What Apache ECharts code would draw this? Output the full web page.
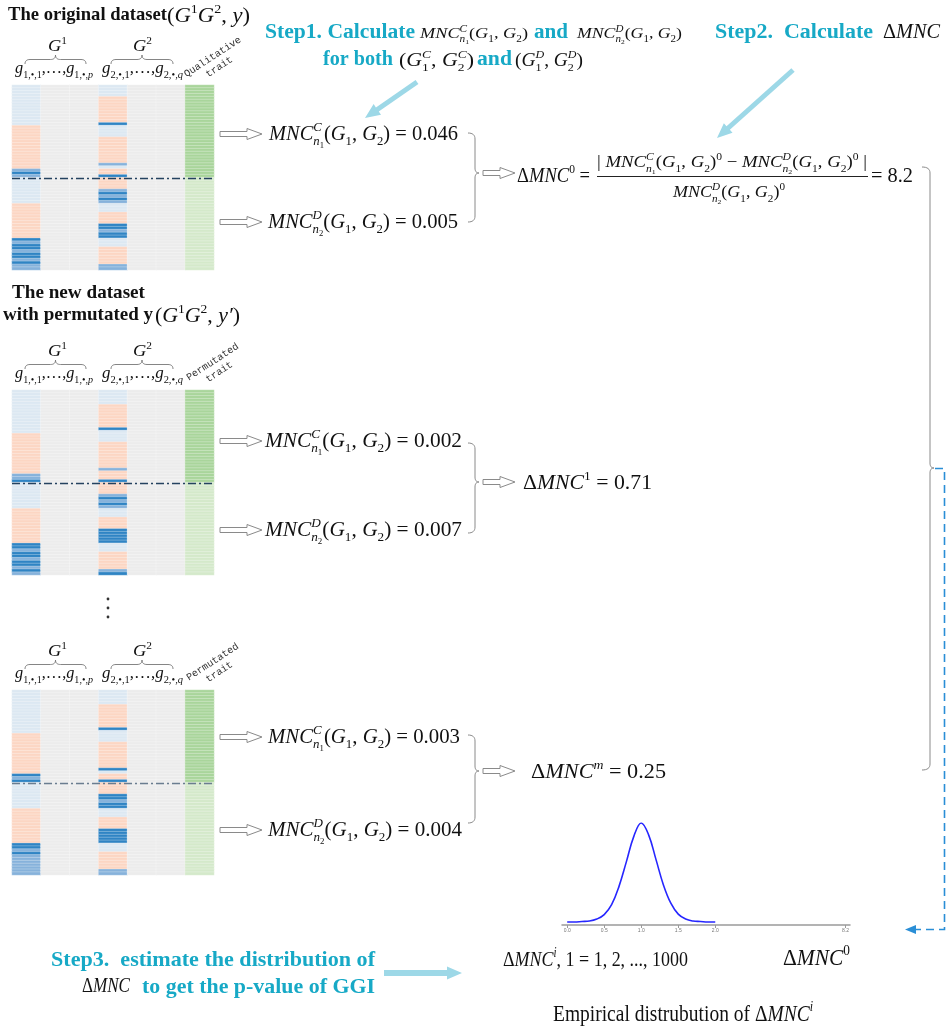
<!DOCTYPE html>
<html>
<head>
<meta charset="utf-8">
<title>Permutation test of GGI</title>
<script src="https://cdn.jsdelivr.net/npm/echarts@6/dist/echarts.min.js"></script>
<style>
  html, body { margin: 0; padding: 0; background: #fff; }
  #chart { width: 948px; height: 1030px; }
</style>
</head>
<body>
<div id="chart"></div>
<script>
// ---------------- data ----------------
// heatmap cell codes: l light blue, s salmon, b mid blue, B dark blue, g grey, G green, h pale green
const cellCodes = ['l', 's', 'b', 'B', 'g', 'G', 'h'];
const cellColors = ['#dce8f2', '#fcd6c3', '#86b2db', '#2f84c4', '#ececec', '#a9d59b', '#d4e9ca'];
const geneCols = ['g1_1', 'g1_2', 'g1_p', 'g2_1', 'g2_2', 'g2_q', 'trait'];
const rowCount = 64;

// one string per column, one char per row (top -> bottom), grouped by 8
const greyCol  = 'gggggggg gggggggg gggggggg gggggggg gggggggg gggggggg gggggggg gggggggg';
const traitCol = 'GGGGGGGG GGGGGGGG GGGGGGGG GGGGGGGG hhhhhhhh hhhhhhhh hhhhhhhh hhhhhhhh';
// original dataset
const origG1 = 'llllllll llllllss ssssssss sssssbBb llllllll lsssssss sssssBbB BbBBbBbb';
const origG2 = 'llllssss sssssBll llssssss sssblssB ssssbBbB blllssss BBbBBlll ssssssbb';
// first permutation
const perm1G1 = 'llllllll llllllls ssssssss sssssbbB llllllll lsssssss sssssBBb BBbBBbBb';
const perm1G2 = 'lllllsss sssssBll llssssss sssbsssB ssssbBbB blllssss BBBBBlll ssssssbB';
// m-th permutation
const permMG1 = 'llllllll llllllls ssssssss sssssBbB llllllll lsssssss sssssBBb Bbbbbbbb';
const permMG2 = 'lllllsss sssssBll llssssss sssBlssB ssssBBbB Blllssss BBBBBlll ssssssbb';

// MNC statistics and the derived delta values
const mncCValues = ['0.046', '0.002', '0.003'];
const mncDValues = ['0.005', '0.007', '0.004'];
const deltaValues = ['8.2', '0.71', '0.25'];

// empirical distribution of delta MNC
const densityX = [0.0, 0.1, 0.2, 0.3, 0.4, 0.5, 0.6, 0.7, 0.8, 0.9, 1.0,
                  1.1, 1.2, 1.3, 1.4, 1.5, 1.6, 1.7, 1.8, 1.9, 2.0];
const densityY = [0.00, 0.00, 0.01, 0.02, 0.06, 0.15, 0.35, 0.72, 1.22, 1.73, 2.00,
                  1.76, 1.26, 0.75, 0.38, 0.16, 0.06, 0.02, 0.01, 0.00, 0.00];
const densityTicks = [0, 0.5, 1, 1.5, 2, 3.76];
const densityTickLabels = ['0.0', '0.5', '1.0', '1.5', '2.0', '8.2'];

// ---------------- layout ----------------
const TEAL = '#17a9c6';
const ARROW_BLUE = '#9dd8e7';
const INK = '#111';
const GREY = '#8a8a8a';
const SERIF = '"Liberation Serif", "Times New Roman", serif';
const MONO = '"Liberation Mono", "DejaVu Sans Mono", monospace';

const heatLeft = 12;
const heatWidth = 202;
const heatHeight = 185;
const heatmaps = [
  { top: 85,  cols: [origG1, greyCol, greyCol, origG2, greyCol, greyCol, traitCol], trait: 'Qualitative\ntrait', dash: '#24425f' },
  { top: 390, cols: [perm1G1, greyCol, greyCol, perm1G2, greyCol, greyCol, traitCol], trait: 'Permutated\ntrait', dash: '#24425f' },
  { top: 690, cols: [permMG1, greyCol, greyCol, permMG2, greyCol, greyCol, traitCol], trait: 'Permutated\ntrait', dash: '#6a7d90' }
];
// y of the MNC^C / MNC^D lines, the brace and the delta line for each dataset
const rowsLayout = [
  { yC: 134, yD: 222, xC: 269, wC: 189, xD: 268, wD: 190, brace: [133, 222, 173] },
  { yC: 441, yD: 530, xC: 265, wC: 197, xD: 265, wD: 197, brace: [443, 533, 482] },
  { yC: 737, yD: 830, xC: 268, wC: 192, xD: 268, wD: 194, brace: [735, 823, 771] }
];

// ---------------- helpers ----------------
const measureCtx = document.createElement('canvas').getContext('2d');
function fontOf(px, it, bold) {
  return (it ? 'italic ' : '') + (bold ? 'bold ' : '') + px + 'px ' + SERIF;
}
function textWidth(str, font) {
  measureCtx.font = font;
  return measureCtx.measureText(str).width;
}

// token builders for the little formulas
const R = (t, o) => Object.assign({ t }, o);
const I = (t, o) => Object.assign({ t, it: true }, o);
const SUP = (t, it = true) => ({ t, it, s: 0.62, dy: -0.45 });
const SUB = (t, it = false) => ({ t, it, s: 0.62, dy: 0.25 });
const SUB2 = t => ({ t, s: 0.42, dy: 0.34 });
const ST = (a, b) => ({ stack: [a, b] });
const BT = t => ({ t, b: true, c: TEAL });

const mncC = [I('MNC'), ST([SUP('C')], [SUB('n', true), SUB2('1')])];
const mncD = [I('MNC'), ST([SUP('D')], [SUB('n', true), SUB2('2')])];
const gPair = [R('('), I('G'), SUB('1'), R(', '), I('G'), SUB('2'), R(')')];
const delta = [R('Δ'), I('MNC')];

function layoutTokens(tokens, x, base, B, color, out) {
  tokens.forEach((tk) => {
    if (tk.stack) {
      let w = 0;
      tk.stack.forEach((part) => {
        w = Math.max(w, layoutTokens(part, x, base, B, color, out) - x);
      });
      x += w;
      return;
    }
    const px = B * (tk.s || 1);
    const font = fontOf(px, tk.it, tk.b);
    out.push({
      type: 'text',
      silent: true,
      style: {
        text: tk.t, x: x, y: base + (tk.dy || 0) * B - 0.34 * px,
        font: font, fill: tk.c || color, align: 'left', verticalAlign: 'middle'
      }
    });
    x += textWidth(tk.t, font);
  });
  return x;
}

/**
 * formula laid out from its left edge x, yMid = visual middle of the main glyphs,
 * squeezed horizontally to the given width
 */
function mathText(x, yMid, tokens, B, width, color) {
  const kids = [];
  const end = layoutTokens(tokens, 0, yMid + 0.34 * B, B, color || INK, kids);
  return { type: 'group', x: x, y: 0, scaleX: width ? width / end : 1, children: kids };
}

function arrowShape(x0, y0, x1, y1, w, headL, headW, style) {
  const dx = x1 - x0, dy = y1 - y0, len = Math.hypot(dx, dy);
  const ux = dx / len, uy = dy / len, nx = -uy, ny = ux;
  const bx = x1 - ux * headL, by = y1 - uy * headL;
  const pts = [
    [x0 + nx * w / 2, y0 + ny * w / 2], [bx + nx * w / 2, by + ny * w / 2],
    [bx + nx * headW / 2, by + ny * headW / 2], [x1, y1],
    [bx - nx * headW / 2, by - ny * headW / 2], [bx - nx * w / 2, by - ny * w / 2],
    [x0 - nx * w / 2, y0 - ny * w / 2]
  ];
  return { type: 'polygon', silent: true, shape: { points: pts }, style: style };
}
const hollowArrow = (x0, x1, y) =>
  arrowShape(x0, y, x1, y, 5, 15, 11, { fill: '#fff', stroke: GREY, lineWidth: 1 });
const blueArrow = (x0, y0, x1, y1, w) =>
  arrowShape(x0, y0, x1, y1, w, 15, 13, { fill: ARROW_BLUE });

/**
 * polyline from a start point and a list of segments
 * ['L', x, y] straight, ['Q', cx, cy, x, y] quadratic curve (sampled)
 */
function curveLine(start, segs, stroke, lineWidth) {
  const pts = [start];
  let [px, py] = start;
  segs.forEach((s) => {
    if (s[0] === 'L') {
      pts.push([s[1], s[2]]);
      [px, py] = [s[1], s[2]];
    } else {
      const [, cx, cy, x, y] = s;
      for (let k = 1; k <= 8; k++) {
        const t = k / 8, u = 1 - t;
        pts.push([u * u * px + 2 * u * t * cx + t * t * x, u * u * py + 2 * u * t * cy + t * t * y]);
      }
      [px, py] = [x, y];
    }
  });
  return { type: 'polyline', silent: true, shape: { points: pts },
           style: { stroke: stroke, fill: 'none', lineWidth: lineWidth || 1 } };
}
// "}" brace, opening to the left
function rightBrace(x0, yt, yb, ym, depth) {
  const x1 = x0 + depth;
  return curveLine([x0, yt], [
    ['Q', x1, yt, x1, yt + 6], ['L', x1, ym - 5], ['Q', x1, ym, x1 + 4, ym],
    ['Q', x1, ym, x1, ym + 5], ['L', x1, yb - 6], ['Q', x1, yb, x0, yb]
  ], GREY, 1);
}
// over-brace above a group of columns
function overBrace(x0, x1, yt, yb) {
  const xc = (x0 + x1) / 2, ym = (yt + yb) / 2;
  return curveLine([x0, yb], [
    ['Q', x0, ym, x0 + 5, ym], ['L', xc - 5, ym], ['Q', xc, ym, xc, yt],
    ['Q', xc, ym, xc + 5, ym], ['L', x1 - 5, ym], ['Q', x1, ym, x1, yb]
  ], '#777', 0.9);
}

function buildCells(cols) {
  const cells = [];
  cols.forEach((str, ci) => {
    const s = str.replace(/ /g, '');
    for (let ri = 0; ri < rowCount; ri++) {
      cells.push([ci, ri, cellCodes.indexOf(s[ri])]);
    }
  });
  return cells;
}

// ---------------- chart ----------------
const rowNames = Array.from({ length: rowCount }, (_, i) => 'r' + (i + 1));
const chart = echarts.init(document.getElementById('chart'), null, { renderer: 'canvas' });

const grids = heatmaps.map(h => ({ left: heatLeft, top: h.top, width: heatWidth, height: heatHeight }));
grids.push({ left: 562, top: 823, width: 288, height: 102 });

const xAxes = heatmaps.map((h, i) => ({ type: 'category', gridIndex: i, data: geneCols, show: false }));
xAxes.push({
  type: 'value', gridIndex: 3, min: -0.07, max: 3.82,
  axisLine: { show: true, onZero: false, lineStyle: { color: '#9a9a9a', width: 1.5 } },
  axisTick: { show: true, customValues: densityTicks, length: 3, lineStyle: { color: '#9a9a9a' } },
  axisLabel: {
    customValues: densityTicks, fontSize: 5, color: '#777', margin: 3,
    formatter: v => densityTickLabels[densityTicks.findIndex(t => Math.abs(t - v) < 1e-6)] || ''
  },
  splitLine: { show: false }
});
const yAxes = heatmaps.map((h, i) => ({ type: 'category', gridIndex: i, data: rowNames, inverse: true, show: false }));
yAxes.push({ type: 'value', gridIndex: 3, min: -0.06, max: 2.0, show: false });

const series = heatmaps.map((h, i) => ({
  type: 'heatmap',
  xAxisIndex: i, yAxisIndex: i,
  data: buildCells(h.cols),
  silent: true,
  progressive: 0,
  itemStyle: { borderColor: 'rgba(255,255,255,0.55)', borderWidth: 0.5 },
  emphasis: { disabled: true }
}));
series.push({
  type: 'line', xAxisIndex: 3, yAxisIndex: 3,
  data: densityX.map((x, i) => [x, densityY[i]]),
  smooth: 0.4, showSymbol: false, silent: true,
  lineStyle: { color: '#2626ff', width: 1.6 }
});

chart.setOption({
  animation: false,
  backgroundColor: '#fff',
  grid: grids,
  xAxis: xAxes,
  yAxis: yAxes,
  visualMap: {
    type: 'piecewise', show: false, seriesIndex: [0, 1, 2], dimension: 2,
    pieces: cellCodes.map((c, i) => ({ value: i, color: cellColors[i] }))
  },
  series: series
});

// ---------------- annotations ----------------
const g = [];

// titles
g.push(mathText(8, 15, [R('The original dataset', { b: true })], 19, 159));
g.push(mathText(167, 16, [R('('), I('G'), SUP('1', false), I('G'), SUP('2', false), R(', '), I('y'), R(')')], 21, 83));
g.push(mathText(12, 293, [R('The new dataset', { b: true })], 19, 133));
g.push(mathText(3, 315, [R('with permutated y', { b: true })], 19, 150));
g.push(mathText(155, 316, [R('('), I('G'), SUP('1', false), I('G'), SUP('2', false), R(', '), I('y′'), R(')')], 21, 85));

// column headers of each heatmap + dash-dot split line
heatmaps.forEach((h, i) => {
  const T = h.top;
  g.push(mathText(48, T - 38, [I('G'), SUP('1', false)], 17, 19));
  g.push(mathText(133, T - 38, [I('G'), SUP('2', false)], 17, 19));
  g.push(overBrace(25, 86, T - 30, T - 21));
  g.push(overBrace(111, 173, T - 30, T - 21));
  g.push(mathText(15, T - 16, [I('g'), SUB('1,•,1'), R(',…,'), I('g'), SUB('1,•,'), SUB('p', true)], 17, 78));
  g.push(mathText(102, T - 16, [I('g'), SUB('2,•,1'), R(',…,'), I('g'), SUB('2,•,'), SUB('q', true)], 17, 81));
  g.push({
    type: 'text', silent: true, x: 216, y: T - 23, rotation: 0.58,
    style: { text: h.trait, font: '10px ' + MONO, fill: '#333', align: 'center', verticalAlign: 'middle', lineHeight: 12 }
  });
  const yA = chart.convertToPixel({ gridIndex: i }, [0, 31])[1];
  const yB = chart.convertToPixel({ gridIndex: i }, [0, 32])[1];
  const ySplit = Math.round((yA + yB) / 2) + 0.5;
  g.push({
    type: 'line', silent: true, z: 50,
    shape: { x1: heatLeft, y1: ySplit, x2: heatLeft + heatWidth, y2: ySplit },
    style: { stroke: h.dash, lineWidth: 1.4, lineDash: [8, 3, 2, 3] }
  });
});

// vertical ellipsis between the permutations
[599, 608, 617].forEach(y => g.push({ type: 'circle', silent: true, shape: { cx: 108, cy: y, r: 1.4 }, style: { fill: '#333' } }));

// MNC lines, braces and delta values
rowsLayout.forEach((r, i) => {
  g.push(hollowArrow(220, 262, r.yC));
  g.push(hollowArrow(220, 262, r.yD));
  g.push(mathText(r.xC, r.yC, [...mncC, ...gPair, R(' = ' + mncCValues[i])], 21, r.wC));
  g.push(mathText(r.xD, r.yD, [...mncD, ...gPair, R(' = ' + mncDValues[i])], 21, r.wD));
  g.push(rightBrace(468, r.brace[0], r.brace[1], r.brace[2], 7));
  g.push(hollowArrow(483, 515, r.brace[2]));
});
g.push(mathText(517, 176, [...delta, SUP('0', false), R(' =')], 21, 73));
g.push(mathText(597, 163, [R('| '), ...mncC, ...gPair, SUP('0', false), R(' − '), ...mncD, ...gPair, SUP('0', false), R(' |')], 17, 270));
g.push({ type: 'line', silent: true, shape: { x1: 597, y1: 176.5, x2: 868, y2: 176.5 }, style: { stroke: '#222', lineWidth: 1 } });
g.push(mathText(673, 193, [...mncD, ...gPair, SUP('0', false)], 17, 112));
g.push(mathText(871, 176, [R('= ' + deltaValues[0])], 21, 42));
g.push(mathText(523, 483, [...delta, SUP('1', false), R(' = ' + deltaValues[1])], 21, 129));
g.push(mathText(531, 772, [...delta, SUP('m'), R(' = ' + deltaValues[2])], 21, 135));

// steps
g.push(mathText(265, 33, [BT('Step1. Calculate')], 20, 150));
g.push(mathText(420, 34, [...mncC, ...gPair], 15, 108));
g.push(mathText(534, 33, [BT('and')], 20, 34));
g.push(mathText(577, 34, [...mncD, ...gPair], 15, 105));
g.push(mathText(323, 60, [BT('for both')], 20, 70));
g.push(mathText(399, 61, [R('('), I('G'), ST([SUP('C')], [SUB('1')]), R(', '), I('G'), ST([SUP('C')], [SUB('2')]), R(')')], 18, 75));
g.push(mathText(477, 60, [BT('and')], 20, 35));
g.push(mathText(515, 61, [R('('), I('G'), ST([SUP('D')], [SUB('1')]), R(', '), I('G'), ST([SUP('D')], [SUB('2')]), R(')')], 18, 68));
g.push(blueArrow(417, 82, 365, 118, 5));

g.push(mathText(715, 33, [BT('Step2.  Calculate')], 20, 158));
g.push(mathText(883, 33, delta, 20, 57));
g.push(blueArrow(793, 70, 717, 138, 5));

g.push(mathText(51, 960, [BT('Step3.  estimate the distribution of')], 22, 324));
g.push(mathText(82, 987, delta, 20, 48));
g.push(mathText(142, 987, [BT('to get the p-value of GGI')], 22, 233));
g.push(blueArrow(384, 973, 462, 973, 6));

// right side: big brace and dashed return arrow
g.push(rightBrace(922, 167, 770, 468, 8));
g.push({
  type: 'polyline', silent: true,
  shape: { points: [[935, 468.5], [944.5, 468.5], [944.5, 929.5], [914, 929.5]] },
  style: { stroke: '#2a8ed6', lineWidth: 1.6, lineDash: [8, 5], fill: 'none' }
});
g.push({ type: 'polygon', silent: true, shape: { points: [[905, 929.5], [916, 925], [916, 934]] }, style: { fill: '#2a8ed6' } });

// distribution captions
g.push(mathText(503, 960, [...delta, SUP('i'), R(', 1 = 1, 2, ..., 1000')], 22, 185));
g.push(mathText(783, 959, [...delta, SUP('0', false)], 23, 67));
g.push(mathText(553, 1015, [R('Empirical distrubution of Δ'), I('MNC'), SUP('i')], 24, 260));

chart.setOption({ graphic: { elements: g } });
</script>
</body>
</html>
